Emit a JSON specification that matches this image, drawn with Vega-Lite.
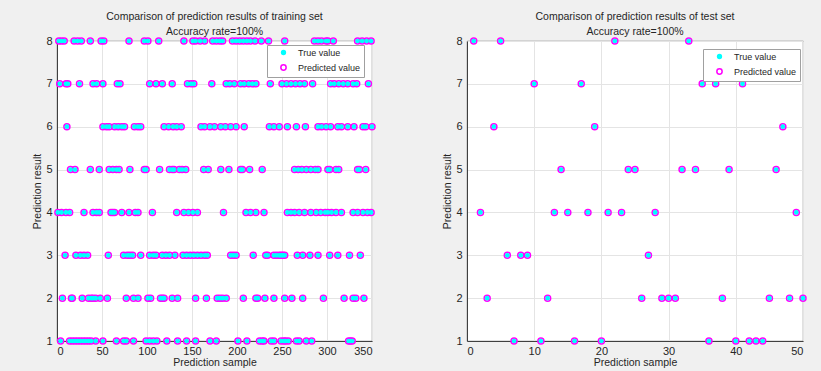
{
  "$schema": "https://vega.github.io/schema/vega-lite/v6.json",
  "background": "#f0f0f0",
  "padding": {"left": 32, "top": 11, "right": 25, "bottom": 8},
  "bounds": "flush",
  "spacing": 95,
  "datasets": {
    "train": [
      {"s":2,"v":8},{"s":5,"v":8},{"s":8,"v":8},{"s":19,"v":8},{"s":23,"v":8},{"s":27,"v":8},{"s":37,"v":8},{"s":49,"v":8},{"s":52,"v":8},{"s":80,"v":8},{"s":97,"v":8},{"s":101,"v":8},{"s":113,"v":8},{"s":141,"v":8},{"s":151,"v":8},{"s":154,"v":8},{"s":159,"v":8},{"s":164,"v":8},{"s":173,"v":8},{"s":177,"v":8},{"s":181,"v":8},{"s":184,"v":8},{"s":195,"v":8},{"s":199,"v":8},{"s":203,"v":8},{"s":207,"v":8},{"s":211,"v":8},{"s":215,"v":8},{"s":220,"v":8},{"s":227,"v":8},{"s":235,"v":8},{"s":253,"v":8},{"s":286,"v":8},{"s":290,"v":8},{"s":294,"v":8},{"s":299,"v":8},{"s":301,"v":8},{"s":307,"v":8},{"s":334,"v":8},{"s":339,"v":8},{"s":344,"v":8},{"s":349,"v":8},
      {"s":3,"v":7},{"s":10,"v":7},{"s":12,"v":7},{"s":25,"v":7},{"s":40,"v":7},{"s":44,"v":7},{"s":51,"v":7},{"s":67,"v":7},{"s":70,"v":7},{"s":103,"v":7},{"s":110,"v":7},{"s":117,"v":7},{"s":128,"v":7},{"s":145,"v":7},{"s":149,"v":7},{"s":152,"v":7},{"s":172,"v":7},{"s":188,"v":7},{"s":192,"v":7},{"s":197,"v":7},{"s":204,"v":7},{"s":208,"v":7},{"s":213,"v":7},{"s":217,"v":7},{"s":221,"v":7},{"s":237,"v":7},{"s":250,"v":7},{"s":255,"v":7},{"s":260,"v":7},{"s":265,"v":7},{"s":270,"v":7},{"s":275,"v":7},{"s":284,"v":7},{"s":304,"v":7},{"s":308,"v":7},{"s":313,"v":7},{"s":318,"v":7},{"s":323,"v":7},{"s":329,"v":7},{"s":333,"v":7},{"s":346,"v":7},
      {"s":11,"v":6},{"s":51,"v":6},{"s":55,"v":6},{"s":58,"v":6},{"s":64,"v":6},{"s":68,"v":6},{"s":72,"v":6},{"s":75,"v":6},{"s":86,"v":6},{"s":90,"v":6},{"s":93,"v":6},{"s":119,"v":6},{"s":124,"v":6},{"s":129,"v":6},{"s":133,"v":6},{"s":138,"v":6},{"s":160,"v":6},{"s":164,"v":6},{"s":170,"v":6},{"s":175,"v":6},{"s":182,"v":6},{"s":187,"v":6},{"s":193,"v":6},{"s":199,"v":6},{"s":208,"v":6},{"s":236,"v":6},{"s":241,"v":6},{"s":247,"v":6},{"s":256,"v":6},{"s":266,"v":6},{"s":276,"v":6},{"s":290,"v":6},{"s":294,"v":6},{"s":299,"v":6},{"s":304,"v":6},{"s":312,"v":6},{"s":316,"v":6},{"s":323,"v":6},{"s":330,"v":6},{"s":340,"v":6},{"s":343,"v":6},{"s":350,"v":6},
      {"s":15,"v":5},{"s":20,"v":5},{"s":37,"v":5},{"s":47,"v":5},{"s":58,"v":5},{"s":62,"v":5},{"s":66,"v":5},{"s":69,"v":5},{"s":81,"v":5},{"s":97,"v":5},{"s":99,"v":5},{"s":114,"v":5},{"s":125,"v":5},{"s":128,"v":5},{"s":130,"v":5},{"s":136,"v":5},{"s":139,"v":5},{"s":143,"v":5},{"s":163,"v":5},{"s":168,"v":5},{"s":182,"v":5},{"s":191,"v":5},{"s":204,"v":5},{"s":206,"v":5},{"s":214,"v":5},{"s":228,"v":5},{"s":264,"v":5},{"s":268,"v":5},{"s":272,"v":5},{"s":277,"v":5},{"s":282,"v":5},{"s":287,"v":5},{"s":290,"v":5},{"s":301,"v":5},{"s":303,"v":5},{"s":310,"v":5},{"s":313,"v":5},{"s":334,"v":5},{"s":336,"v":5},{"s":343,"v":5},
      {"s":1,"v":4},{"s":5,"v":4},{"s":10,"v":4},{"s":14,"v":4},{"s":30,"v":4},{"s":40,"v":4},{"s":44,"v":4},{"s":47,"v":4},{"s":60,"v":4},{"s":62,"v":4},{"s":64,"v":4},{"s":72,"v":4},{"s":80,"v":4},{"s":87,"v":4},{"s":90,"v":4},{"s":106,"v":4},{"s":133,"v":4},{"s":141,"v":4},{"s":146,"v":4},{"s":151,"v":4},{"s":156,"v":4},{"s":185,"v":4},{"s":210,"v":4},{"s":215,"v":4},{"s":221,"v":4},{"s":230,"v":4},{"s":256,"v":4},{"s":260,"v":4},{"s":264,"v":4},{"s":269,"v":4},{"s":275,"v":4},{"s":282,"v":4},{"s":288,"v":4},{"s":293,"v":4},{"s":298,"v":4},{"s":301,"v":4},{"s":305,"v":4},{"s":310,"v":4},{"s":316,"v":4},{"s":329,"v":4},{"s":334,"v":4},{"s":340,"v":4},{"s":345,"v":4},{"s":349,"v":4},
      {"s":9,"v":3},{"s":21,"v":3},{"s":26,"v":3},{"s":30,"v":3},{"s":34,"v":3},{"s":57,"v":3},{"s":74,"v":3},{"s":78,"v":3},{"s":81,"v":3},{"s":84,"v":3},{"s":93,"v":3},{"s":103,"v":3},{"s":107,"v":3},{"s":110,"v":3},{"s":117,"v":3},{"s":121,"v":3},{"s":125,"v":3},{"s":131,"v":3},{"s":140,"v":3},{"s":144,"v":3},{"s":148,"v":3},{"s":152,"v":3},{"s":156,"v":3},{"s":160,"v":3},{"s":164,"v":3},{"s":167,"v":3},{"s":193,"v":3},{"s":196,"v":3},{"s":199,"v":3},{"s":218,"v":3},{"s":232,"v":3},{"s":234,"v":3},{"s":241,"v":3},{"s":244,"v":3},{"s":247,"v":3},{"s":249,"v":3},{"s":251,"v":3},{"s":253,"v":3},{"s":267,"v":3},{"s":273,"v":3},{"s":281,"v":3},{"s":290,"v":3},{"s":303,"v":3},{"s":312,"v":3},{"s":325,"v":3},{"s":337,"v":3},
      {"s":6,"v":2},{"s":16,"v":2},{"s":17,"v":2},{"s":28,"v":2},{"s":35,"v":2},{"s":38,"v":2},{"s":40,"v":2},{"s":43,"v":2},{"s":48,"v":2},{"s":56,"v":2},{"s":77,"v":2},{"s":85,"v":2},{"s":90,"v":2},{"s":101,"v":2},{"s":104,"v":2},{"s":115,"v":2},{"s":117,"v":2},{"s":119,"v":2},{"s":128,"v":2},{"s":134,"v":2},{"s":154,"v":2},{"s":166,"v":2},{"s":178,"v":2},{"s":181,"v":2},{"s":184,"v":2},{"s":188,"v":2},{"s":207,"v":2},{"s":221,"v":2},{"s":223,"v":2},{"s":231,"v":2},{"s":241,"v":2},{"s":253,"v":2},{"s":261,"v":2},{"s":273,"v":2},{"s":296,"v":2},{"s":319,"v":2},{"s":329,"v":2},{"s":332,"v":2},{"s":341,"v":2},
      {"s":4,"v":1},{"s":14,"v":1},{"s":17,"v":1},{"s":20,"v":1},{"s":23,"v":1},{"s":26,"v":1},{"s":29,"v":1},{"s":32,"v":1},{"s":35,"v":1},{"s":38,"v":1},{"s":43,"v":1},{"s":51,"v":1},{"s":66,"v":1},{"s":74,"v":1},{"s":77,"v":1},{"s":85,"v":1},{"s":99,"v":1},{"s":103,"v":1},{"s":107,"v":1},{"s":111,"v":1},{"s":122,"v":1},{"s":134,"v":1},{"s":144,"v":1},{"s":154,"v":1},{"s":170,"v":1},{"s":177,"v":1},{"s":201,"v":1},{"s":211,"v":1},{"s":225,"v":1},{"s":228,"v":1},{"s":230,"v":1},{"s":238,"v":1},{"s":241,"v":1},{"s":249,"v":1},{"s":252,"v":1},{"s":254,"v":1},{"s":257,"v":1},{"s":266,"v":1},{"s":269,"v":1},{"s":277,"v":1},{"s":283,"v":1},{"s":324,"v":1},{"s":326,"v":1},{"s":328,"v":1}
    ],
    "test": [
      {"s":1,"v":8},{"s":2,"v":4},{"s":3,"v":2},{"s":4,"v":6},{"s":5,"v":8},{"s":6,"v":3},{"s":7,"v":1},{"s":8,"v":3},{"s":9,"v":3},{"s":10,"v":7},
      {"s":11,"v":1},{"s":12,"v":2},{"s":13,"v":4},{"s":14,"v":5},{"s":15,"v":4},{"s":16,"v":1},{"s":17,"v":7},{"s":18,"v":4},{"s":19,"v":6},{"s":20,"v":1},
      {"s":21,"v":4},{"s":22,"v":8},{"s":23,"v":4},{"s":24,"v":5},{"s":25,"v":5},{"s":26,"v":2},{"s":27,"v":3},{"s":28,"v":4},{"s":29,"v":2},{"s":30,"v":2},
      {"s":31,"v":2},{"s":32,"v":5},{"s":33,"v":8},{"s":34,"v":5},{"s":35,"v":7},{"s":36,"v":1},{"s":37,"v":7},{"s":38,"v":2},{"s":39,"v":5},{"s":40,"v":1},
      {"s":41,"v":7},{"s":42,"v":1},{"s":43,"v":1},{"s":44,"v":1},{"s":45,"v":2},{"s":46,"v":5},{"s":47,"v":6},{"s":48,"v":2},{"s":49,"v":4},{"s":50,"v":2}
    ]
  },
  "config": {
    "font": "Liberation Sans",
    "view": {"fill": "white", "stroke": "#404040", "strokeWidth": 0.8},
    "axis": {
      "labelFont": "Liberation Sans", "labelFontSize": 11, "labelColor": "#262626",
      "titleFont": "Liberation Sans", "titleFontSize": 10.5, "titleFontWeight": "normal", "titleColor": "#262626",
      "domainColor": "#404040", "domainWidth": 1, "gridColor": "#e4e4e4", "gridWidth": 1,
      "ticks": false, "labelPadding": 5
    },
    "axisX": {"titlePadding": 1, "labelPadding": 4},
    "axisY": {"titlePadding": 3},
    "title": {"font": "Liberation Sans", "fontSize": 10.5, "fontWeight": "normal", "color": "#262626", "offset": -2, "lineHeight": 15, "anchor": "middle"},
    "legend": {
      "title": null, "strokeColor": "#a0a0a0", "fillColor": "white", "padding": 3,
      "labelFont": "Liberation Sans", "labelFontSize": 9, "labelColor": "#262626",
      "rowPadding": 2, "symbolOffset": 9, "labelOffset": 10, "symbolStrokeWidth": 1.5, "symbolSize": 28, "symbolType": "circle"
    }
  },
  "resolve": {
    "scale": {"fill": "independent", "stroke": "independent"},
    "legend": {"fill": "independent", "stroke": "independent"}
  },
  "hconcat": [
    {
      "width": 315, "height": 300,
      "title": {"text": ["Comparison of prediction results of training set", "Accuracy rate=100%"]},
      "data": {"name": "train"},
      "layer": [
        {
          "mark": {"type": "point", "filled": false, "strokeWidth": 1.5, "size": 36, "opacity": 1},
          "encoding": {
            "x": {"field": "s", "type": "quantitative", "scale": {"domain": [0, 350], "nice": false}, "axis": {"values": [0, 50, 100, 150, 200, 250, 300, 350], "title": "Prediction sample"}},
            "y": {"field": "v", "type": "quantitative", "scale": {"domain": [1, 8], "nice": false, "zero": false}, "axis": {"values": [1, 2, 3, 4, 5, 6, 7, 8], "title": "Prediction result"}},
            "stroke": {
              "datum": "Predicted value", "type": "nominal",
              "scale": {"domain": ["True value", "Predicted value"], "range": ["transparent", "#ff00ff"]},
              "legend": {"orient": "none", "legendX": 210, "legendY": 4}
            },
            "fill": {
              "datum": "Predicted value", "type": "nominal",
              "scale": {"domain": ["True value", "Predicted value"], "range": ["#00ffff", "transparent"]},
              "legend": {"orient": "none", "legendX": 210, "legendY": 4}
            }
          }
        },
        {
          "mark": {"type": "point", "filled": true, "strokeWidth": 0, "size": 22, "opacity": 1},
          "encoding": {
            "x": {"field": "s", "type": "quantitative"},
            "y": {"field": "v", "type": "quantitative"},
            "fill": {"datum": "True value", "type": "nominal"}
          }
        }
      ]
    },
    {
      "width": 336, "height": 300,
      "title": {"text": ["Comparison of prediction results of test set", "Accuracy rate=100%"]},
      "data": {"name": "test"},
      "layer": [
        {
          "mark": {"type": "point", "filled": false, "strokeWidth": 1.5, "size": 36, "opacity": 1},
          "encoding": {
            "x": {"field": "s", "type": "quantitative", "scale": {"domain": [0, 50], "nice": false}, "axis": {"values": [0, 5, 10, 15, 20, 25, 30, 35, 40, 45, 50], "title": "Prediction sample"}},
            "y": {"field": "v", "type": "quantitative", "scale": {"domain": [1, 8], "nice": false, "zero": false}, "axis": {"values": [1, 2, 3, 4, 5, 6, 7, 8], "title": "Prediction result"}},
            "stroke": {
              "datum": "Predicted value", "type": "nominal",
              "scale": {"domain": ["True value", "Predicted value"], "range": ["transparent", "#ff00ff"]},
              "legend": {"orient": "none", "legendX": 236, "legendY": 8}
            },
            "fill": {
              "datum": "Predicted value", "type": "nominal",
              "scale": {"domain": ["True value", "Predicted value"], "range": ["#00ffff", "transparent"]},
              "legend": {"orient": "none", "legendX": 236, "legendY": 8}
            }
          }
        },
        {
          "mark": {"type": "point", "filled": true, "strokeWidth": 0, "size": 22, "opacity": 1},
          "encoding": {
            "x": {"field": "s", "type": "quantitative"},
            "y": {"field": "v", "type": "quantitative"},
            "fill": {"datum": "True value", "type": "nominal"}
          }
        }
      ]
    }
  ]
}
